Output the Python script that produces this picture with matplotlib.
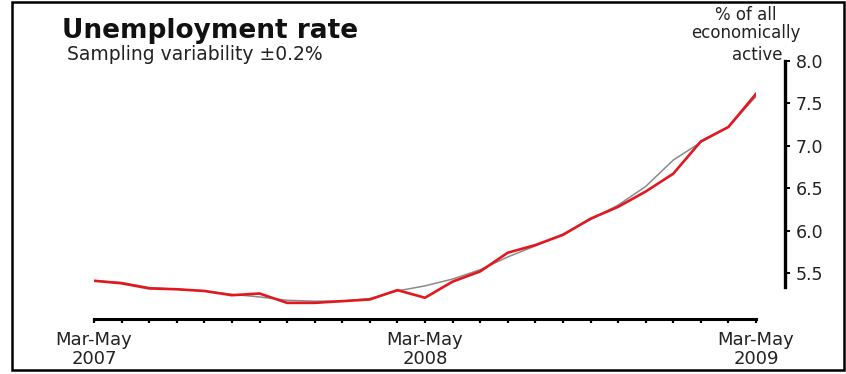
import matplotlib
matplotlib.use('Agg')
import matplotlib.pyplot as plt
from matplotlib.patches import Rectangle

# Monthly rolling quarters, Mar-May 2007 .. Mar-May 2009
months   = list(range(25))
rate     = [5.41, 5.38, 5.32, 5.31, 5.29, 5.24, 5.26, 5.15, 5.15, 5.17,
            5.19, 5.30, 5.21, 5.40, 5.52, 5.74, 5.83, 5.95, 6.14, 6.28,
            6.46, 6.67, 7.05, 7.22, 7.61]
trend    = [5.41, 5.39, 5.33, 5.31, 5.29, 5.25, 5.22, 5.18, 5.17, 5.17,
            5.20, 5.29, 5.35, 5.43, 5.54, 5.69, 5.82, 5.96, 6.13, 6.30,
            6.52, 6.83, 7.04, 7.22, 7.58]
xlabels  = {0: 'Mar-May\n2007', 12: 'Mar-May\n2008', 24: 'Mar-May\n2009'}
yticks   = [5.5, 6.0, 6.5, 7.0, 7.5, 8.0]
unit_lines = ['% of all', 'economically', 'active']

plt.rcParams['font.family'] = 'DejaVu Sans'
txt = '#222222'

fig = plt.figure(figsize=(8.46, 3.74), dpi=100)
ax = fig.add_axes([94/846, 55/374, 662/846, 258.3/374])

ax.plot(months, trend, color='#8a8a8a', lw=1.1, zorder=2)
ax.plot(months, rate, color='#e3171f', lw=1.9, zorder=3)

ax.set_xlim(0, 24)
ax.set_ylim(4.96, 8.0)

for side in ['top', 'left']:
    ax.spines[side].set_visible(False)
ax.spines['bottom'].set_linewidth(2.2)
ax.spines['bottom'].set_color('black')
ax.spines['bottom'].set_bounds(0, 24)
ax.spines['right'].set_position(('outward', 21))
ax.spines['right'].set_linewidth(2.4)
ax.spines['right'].set_bounds(5.34, 8.0)

ax.set_xticks(months)
ax.set_xticklabels([xlabels.get(m, '') for m in months], fontsize=13,
                   color=txt, linespacing=1.05)
ax.tick_params(axis='x', direction='out', length=2.6, width=1.6, pad=6)

ax.yaxis.tick_right()
ax.set_yticks(yticks)
ax.set_yticklabels(['%.1f' % v for v in yticks], fontsize=12.5, color=txt)
ax.tick_params(axis='y', direction='out', length=3.6, width=1.4, pad=4)

fig.text(62/846, 1 - 31/374, 'Unemployment rate', fontsize=19,
         fontweight='bold', color='#111111', va='center', ha='left')
fig.text(67/846, 1 - 54/374, 'Sampling variability \u00b10.2%', fontsize=13.5,
         color=txt, va='center', ha='left')

# unit label, one line at a time so the last line stays clear of 8.0
for line, xc, yb in zip(unit_lines, [746, 746, 757], [20, 38.5, 60]):
    fig.text(xc/846, 1 - yb/374, line, fontsize=12, color=txt,
             va='baseline', ha='center')

fig.patches.append(Rectangle((11.5/846, 4.5/374), 832/846, 367.5/374,
                             transform=fig.transFigure, fill=False,
                             edgecolor='black', lw=1.8))

fig.savefig('out.png', dpi=100)
